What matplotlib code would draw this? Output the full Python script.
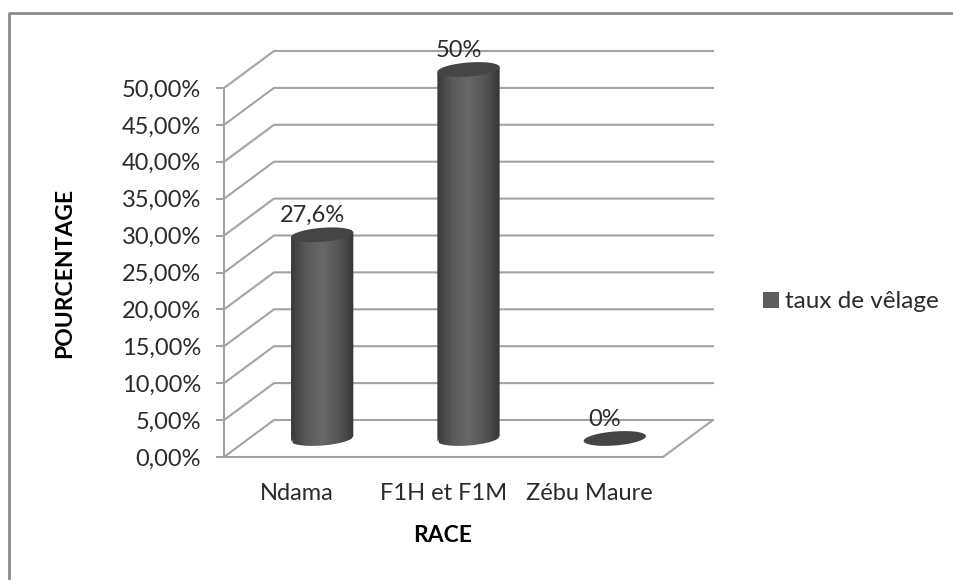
import numpy as np
import matplotlib
matplotlib.use('Agg')
import matplotlib.pyplot as plt
from matplotlib.colors import LinearSegmentedColormap
from matplotlib.patches import Polygon, Rectangle

races = ['Ndama', 'F1H et F1M', 'Zébu Maure']
taux = [27.6, 50, 0]
etiquettes = ['27,6%', '50%', '0%']
graduations = [0, 5, 10, 15, 20, 25, 30, 35, 40, 45, 50]
graduations_txt = ['0,00%', '5,00%', '10,00%', '15,00%', '20,00%', '25,00%',
                   '30,00%', '35,00%', '40,00%', '45,00%', '50,00%']

W, H = 954, 580
plt.rcParams['font.family'] = ['Lato', 'DejaVu Sans']

fig = plt.figure(figsize=(W / 100, H / 100), dpi=100)
fig.patch.set_facecolor('white')

# cadre autour du graphique
fig.add_artist(plt.Line2D([9.5 / W, 9.5 / W, 1], [0, 1 - 12.5 / H, 1 - 12.5 / H],
                          color='#8c8c8c', lw=2, transform=fig.transFigure))

# plan avant de la boite 3D
x0, x1, y0, y50 = 224, 663, 457, 88
ax = fig.add_axes([x0 / W, 1 - y0 / H, (x1 - x0) / W, (y0 - y50) / H])
ax.set_xlim(0, 3)
ax.set_ylim(0, 50)
ax.patch.set_visible(False)
for s in ax.spines.values():
    s.set_visible(False)

px_x = 3 / (x1 - x0)
px_y = 50 / (y0 - y50)
dx = 50 * px_x   # decalage de profondeur
dy = 37 * px_y

gris = '#a3a3a3'
lw = 1.5
for g in graduations:
    ax.plot([0, dx, 3 + dx], [g, g + dy, g + dy], color=gris, lw=lw, clip_on=False, zorder=1)
ax.plot([0, 3, 3 + dx], [0, 0, dy], color=gris, lw=lw, clip_on=False, zorder=1)
ax.plot([0, 0], [0, 50], color=gris, lw=lw, clip_on=False, zorder=2)

ax.set_yticks(graduations)
ax.set_yticklabels(graduations_txt, fontsize=17, color='#2b2b2b')
ax.tick_params(axis='y', length=6, width=lw, color=gris, pad=10.5)
ax.set_xticks([0.5, 1.5, 2.5])
ax.set_xticklabels(races, fontsize=17, color='#2b2b2b')
ax.tick_params(axis='x', length=0, pad=18.5)
ax.set_xlabel('RACE', fontsize=16.5, fontweight='bold', color='black')
ax.set_ylabel('POURCENTAGE', fontsize=16.5, fontweight='bold', color='black')
ax.xaxis.set_label_coords(443 / W, 1 - 535 / H, transform=fig.transFigure)
ax.yaxis.set_label_coords(65 / W, 1 - 273 / H, transform=fig.transFigure)
ax.xaxis.label.set_va('center')
ax.yaxis.label.set_va('center')

# cylindres
cmap = LinearSegmentedColormap.from_list('cyl', ['#3a3a3a', '#5a5a5a', '#686868', '#565656', '#363636'])
rx = 29.5 * px_x
k = 0.2
t = np.linspace(0, 2 * np.pi, 120)
for i, v in enumerate(taux):
    cx = i + 0.5 + dx / 2
    base = dy / 2
    ex = rx * np.cos(t) + k * dx * np.sin(t)
    ey = k * dy * np.sin(t)
    if v > 0:
        # contour du corps : bas de l'ellipse puis les deux cotes jusqu'au sommet
        g = np.argmin(ex)
        d = np.argmax(ex)
        bas = [(cx + ex[j], base + ey[j]) for j in range(120) if ey[j] <= 0 or j in (g, d)]
        bas.sort()
        corps = Polygon(bas + [(cx + ex[d], base + v + ey[d]), (cx + ex[g], base + v + ey[g])],
                        closed=True, transform=ax.transData, fc='none', ec='none')
        ax.add_patch(corps)
        w = max(abs(ex))
        im = ax.imshow(np.linspace(0, 1, 256).reshape(1, -1), cmap=cmap, aspect='auto',
                       extent=[cx - w, cx + w, base - 2 * k * dy, base + v + 2 * k * dy],
                       zorder=3)
        im.set_clip_box(fig.bbox)
        im.set_clip_path(corps)
    ax.add_patch(Polygon(np.column_stack([cx + ex, base + v + ey]), closed=True,
                         fc='#454545', ec='none', zorder=4, clip_on=False))
    ax.annotate(etiquettes[i], xy=(cx, base + v), xytext=(-7.2, 14), textcoords='offset points',
                ha='center', va='center', fontsize=17, color='#2b2b2b', zorder=5,
                annotation_clip=False)

ax.set_xlim(0, 3)
ax.set_ylim(0, 50)

# legende
fig.add_artist(Rectangle((763 / W, 1 - 308 / H), 16 / W, 16 / H, fc='#5f5f5f', ec='none',
                         transform=fig.transFigure))
fig.text(785 / W, 1 - 301.5 / H, 'taux de vêlage', fontsize=17.5, color='#2b2b2b', va='center')

fig.savefig('out.png', dpi=100)
